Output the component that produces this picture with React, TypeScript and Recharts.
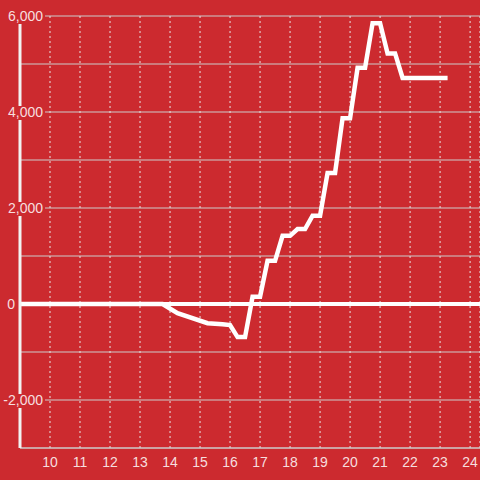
import { CartesianGrid, Line, LineChart, ReferenceLine, XAxis, YAxis } from 'recharts';

const hours = [9, 13.75, 14.25, 15.25, 15.5, 15.75, 16, 16.25, 16.5, 16.75, 17, 17.25, 17.5, 17.75, 18, 18.25, 18.5, 18.75, 19, 19.25, 19.5, 19.75, 20, 20.25, 20.5, 20.75, 21, 21.25, 21.5, 21.75, 23.25];
const pnl = [0, 0, -190, -400, -410, -420, -440, -690, -690, 150, 150, 900, 900, 1420, 1420, 1560, 1560, 1840, 1840, 2730, 2730, 3870, 3870, 4920, 4920, 5850, 5850, 5220, 5220, 4710, 4710];
const xTicks = [10, 11, 12, 13, 14, 15, 16, 17, 18, 19, 20, 21, 22, 23, 24];
const yTicks = [-3000, -2000, -1000, 0, 1000, 2000, 3000, 4000, 5000, 6000];
const yLabelled = [-2000, 0, 2000, 4000, 6000];

const data = hours.map((h, i) => ({ h, pnl: pnl[i] }));

const BG = '#cc2a2f';
const TEXT = 'rgba(255,255,255,0.86)';
const FONT = '"Liberation Sans", Arial, sans-serif';

const fmt = (v: number) => v.toLocaleString('en-US');

function YTick({ y, payload }: any) {
  const v = payload.value as number;
  if (!yLabelled.includes(v)) return null;
  // labels sit on a box of background colour that cuts the axis and gridline
  const zero = v === 0;
  return (
    <g>
      <rect x={0} y={y - 6} width={zero ? 17 : 45} height={14} fill={BG} />
      <text x={zero ? 15 : 43} y={y + 5} textAnchor="end" fill={TEXT} fontSize={14} fontFamily={FONT}>{fmt(v)}</text>
    </g>
  );
}

function XTick({ x, payload }: any) {
  return (
    <text x={x} y={467} textAnchor="middle" fill={TEXT} fontSize={14} fontFamily={FONT}>{payload.value}</text>
  );
}

export default function App() {
  return (
    <div style={{ position: 'fixed', top: 0, left: 0, width: 480, height: 480, background: BG }}>
      <LineChart width={480} height={480} data={data} margin={{ top: 16, right: 0, left: 0, bottom: 0 }}>
        <CartesianGrid vertical={false} stroke="#cccccc" strokeWidth={1} />
        <CartesianGrid horizontal={false} stroke="#e6e6e6" strokeDasharray="2 3" strokeWidth={1} />
        <XAxis dataKey="h" type="number" domain={[9, 24.33]} ticks={xTicks} interval={0} tickLine={false} axisLine={{ stroke: '#cccccc', strokeWidth: 1 }} tick={<XTick />} height={32} allowDataOverflow />
        <YAxis type="number" domain={[-3000, 6000]} ticks={yTicks} interval={0} width={20} tickLine={false} axisLine={{ stroke: '#f2f2f2', strokeWidth: 3 }} tick={<YTick />} allowDataOverflow />
        <ReferenceLine y={0} stroke="#ffffff" strokeWidth={4} />
        <Line type="linear" dataKey="pnl" stroke="#ffffff" strokeWidth={4.5} dot={false} isAnimationActive={false} />
      </LineChart>
    </div>
  );
}
